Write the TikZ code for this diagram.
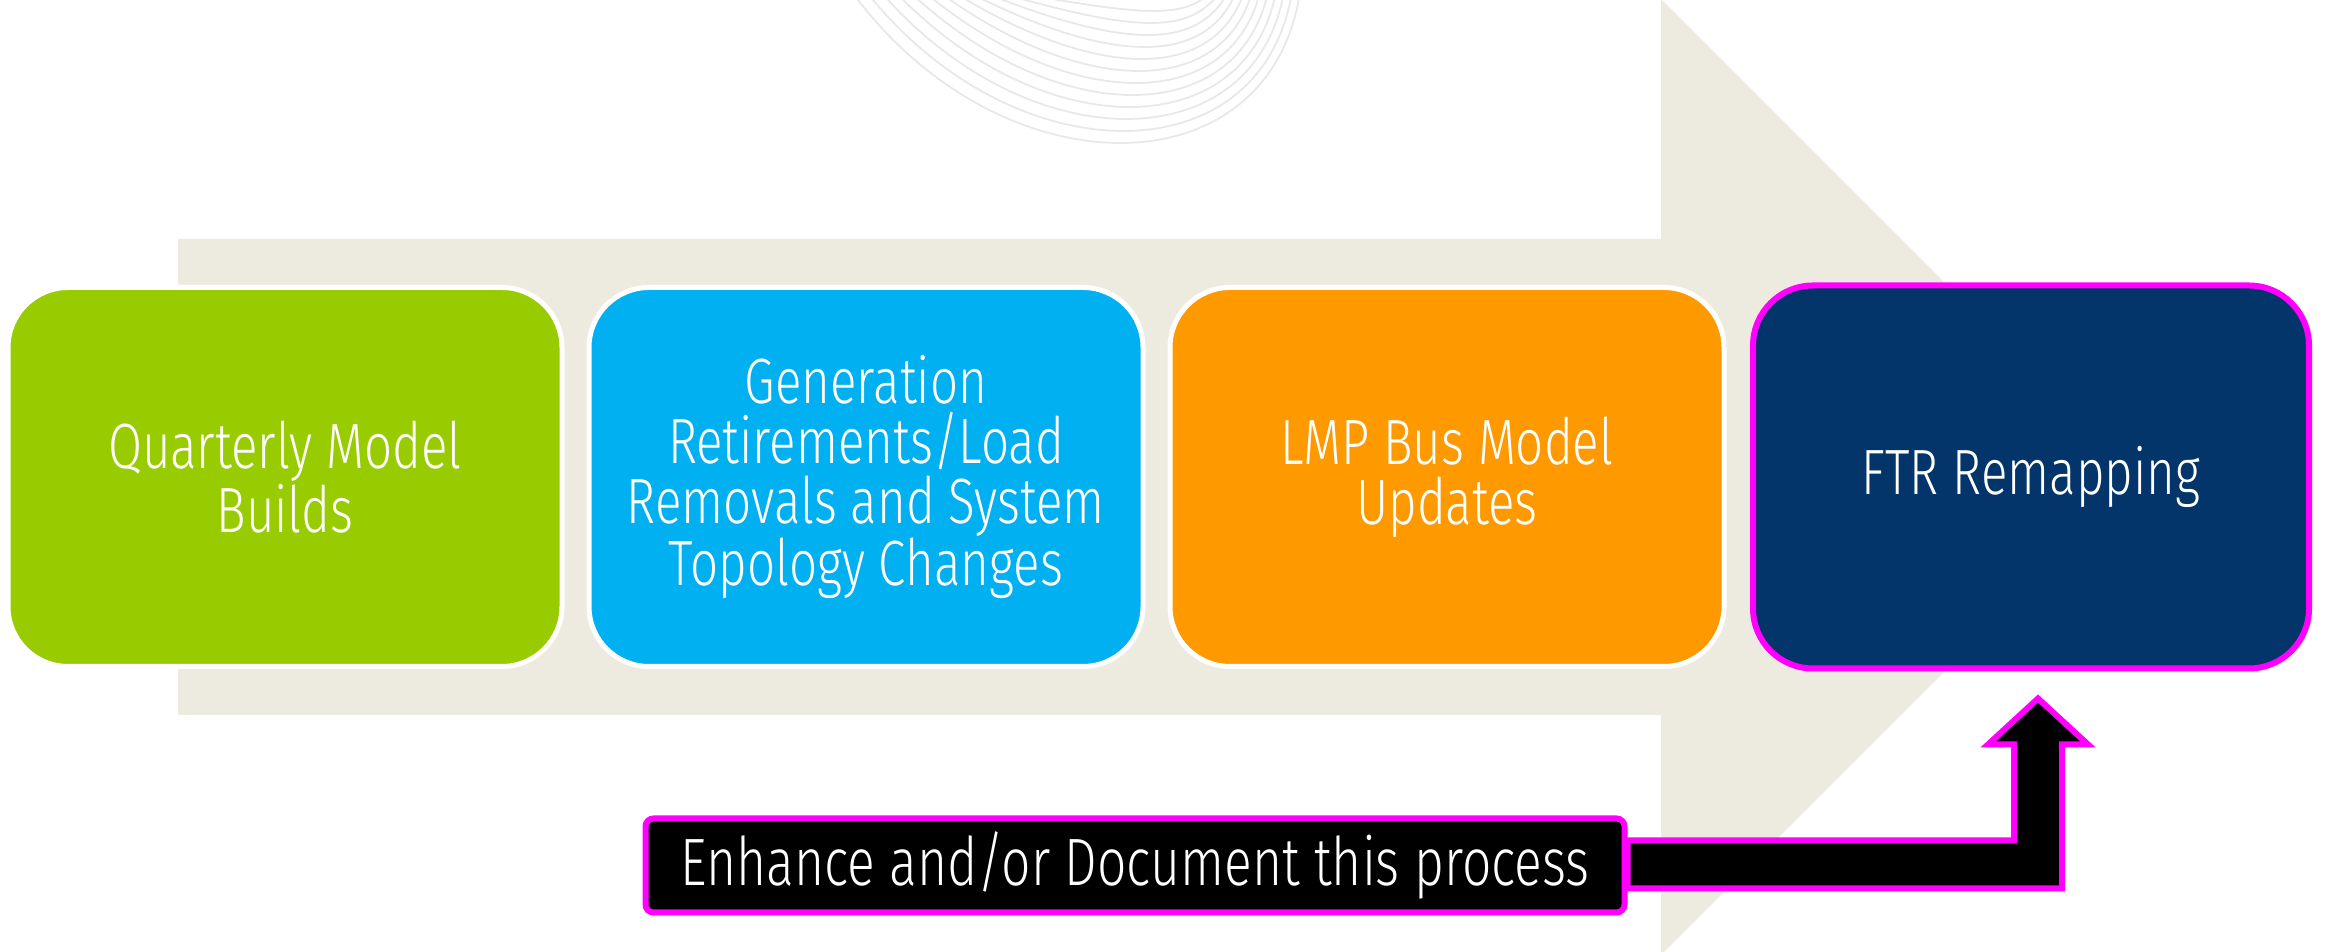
\documentclass[tikz,border=0pt]{standalone}
\usepackage{fontspec}
\setmainfont{Fira Sans Light}[FakeStretch=0.77]
\usetikzlibrary{positioning}

\definecolor{lime}{HTML}{99CC00}
\definecolor{sky}{HTML}{00B0F0}
\definecolor{amber}{HTML}{FF9900}
\definecolor{navy}{HTML}{03356A}
\definecolor{band}{HTML}{EDEBE0}
\definecolor{pink}{HTML}{FF00FF}

\tikzstyle{stage} = [rectangle, draw=white, line width=2.5pt, text=white, minimum width=277pt, minimum height=189.5pt, rounded corners=30pt, align=center, font=\fontsize{32}{30}\selectfont, node distance=290.5pt]
\tikzstyle{pinkline} = [draw=pink, line width=3pt]
\tikzstyle{note} = [rectangle, pinkline, fill=black, text=white, minimum width=489.5pt, minimum height=47pt, inner sep=0pt, rounded corners=4pt, font=\fontsize{33.5}{33.5}\selectfont]

\begin{document}
\begin{tikzpicture}[x=0.5pt, y=0.5pt]
	\useasboundingbox (0,0) rectangle (2330,952);
	\clip (0,0) rectangle (2330,952);

	% faint swoosh lines at the top
	\foreach \i in {0,...,11}
		\draw [black!9, line width=0.9pt] (852+14.5*\i,960) .. controls (1000+14*\i,{960-4/3*(151-12*\i)}) and (1270-8*\i,{960-4/3*(151-12*\i)}) .. (1300-8*\i,960);

	% big arrow behind the stages
	\fill [band] (178,237) -- (1661,237) -- (1661,-3) -- (2139,475) -- (1661,953) -- (1661,713) -- (178,713) -- cycle;

	\node [stage, fill=lime] (qmb) at (285,475) {Quarterly Model\\Builds};
	\node [stage, fill=sky, right of=qmb] (gen) {Generation\\Retirements/Load\\Removals and System\\Topology Changes};
	\node [stage, fill=amber, right of=gen] (lmp) {LMP Bus Model\\Updates};
	\node [stage, fill=navy, pinkline, minimum width=278pt, minimum height=191.5pt, node distance=292pt, right of=lmp] (ftr) {FTR Remapping};

	% callout with elbow arrow up to the last stage
	\node [note] (todo) at (1135,86.5) {Enhance and/or Document this process};
	\coordinate (tip) at ([shift={(7,-27)}]ftr.south);
	\coordinate (bend) at (tip |- todo.east);
	\filldraw [pinkline, fill=black] ([shift={(0,25)}]todo.east) -- ([shift={(-24,25)}]bend) -- ([shift={(-24,-46)}]tip) -- ([shift={(-50,-46)}]tip) -- (tip) -- ([shift={(50,-46)}]tip) -- ([shift={(24,-46)}]tip) -- ([shift={(24,-23)}]bend) -- ([shift={(0,-23)}]todo.east) -- cycle;

\end{tikzpicture}
\end{document}
